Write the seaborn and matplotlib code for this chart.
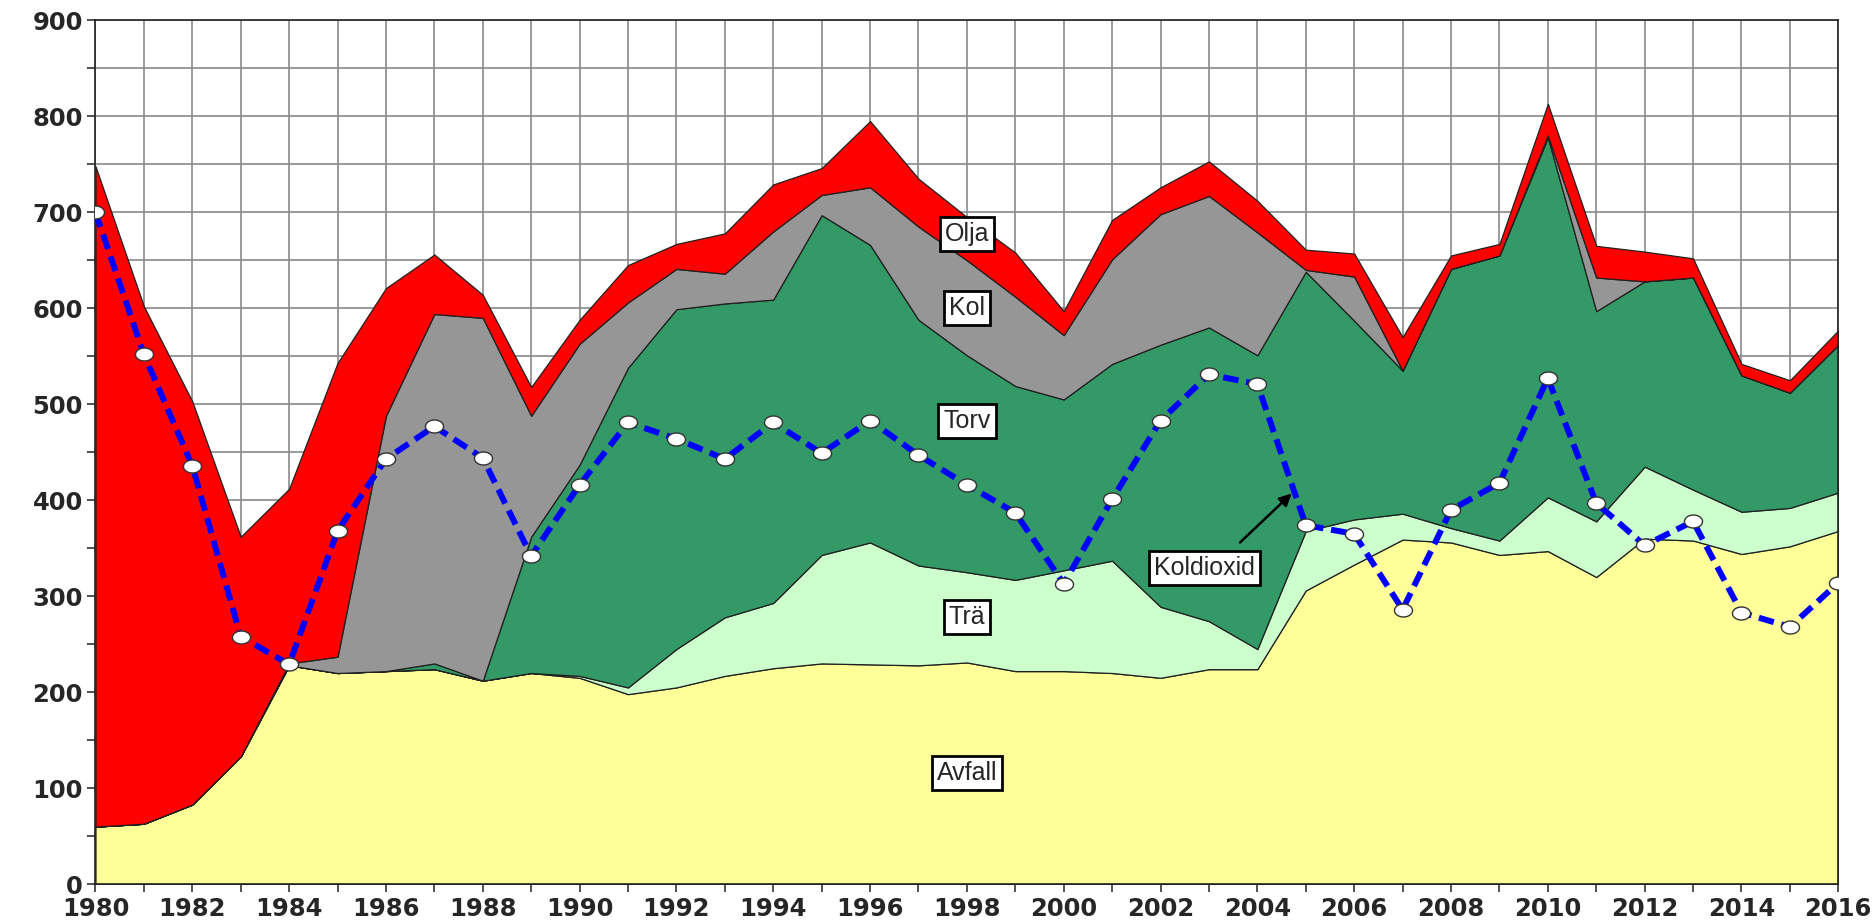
import numpy as np
import pandas as pd
import matplotlib
matplotlib.use("Agg")
import matplotlib.pyplot as plt
from matplotlib.ticker import MultipleLocator
import seaborn as sns

sns.set_style("ticks")
plt.rcParams['font.family'] = ['DejaVu Sans']

years = list(range(1980, 2017))

avfall = [60, 63, 83, 133, 228, 220, 222, 224, 212, 220, 215, 198, 205, 217, 225, 230, 229, 228, 231, 222,
          222, 220, 215, 224, 224, 306, 333, 359, 356, 343, 347, 320, 360, 358, 344, 352, 368]
tra = [0, 0, 0, 0, 0, 0, 0, 0, 0, 0, 2, 7, 40, 61, 68, 113, 127, 104, 94, 95,
       105, 117, 74, 50, 21, 62, 47, 27, 15, 15, 56, 58, 75, 53, 44, 40, 40]
torv = [0, 0, 0, 0, 0, 0, 0, 6, 0, 142, 220, 333, 354, 327, 316, 354, 310, 256, 226, 202,
        178, 205, 273, 306, 306, 270, 207, 149, 270, 297, 375, 219, 193, 221, 142, 120, 154]
kol = [0, 0, 0, 0, 2, 17, 266, 364, 378, 126, 126, 68, 42, 31, 71, 21, 60, 97, 99, 93,
       67, 109, 136, 137, 128, 2, 46, 0, 0, 0, 2, 35, 0, 0, 0, 0, 0]
olja = [688, 539, 420, 229, 182, 306, 133, 62, 24, 30, 25, 39, 26, 42, 49, 28, 69, 50, 45, 46,
        25, 41, 28, 36, 33, 21, 24, 35, 14, 12, 33, 33, 31, 20, 12, 13, 15]
koldioxid = [700, 552, 436, 258, 229, 368, 443, 477, 444, 342, 416, 481, 464, 443, 481, 449, 483, 447, 416, 387,
             313, 401, 483, 531, 521, 374, 365, 286, 390, 418, 527, 397, 353, 378, 283, 268, 314]

layer_names = ['Avfall', 'Trä', 'Torv', 'Kol', 'Olja']
layer_colors = ['#FFFF99', '#CCFFCC', '#339966', '#969696', '#FF0000']

df_co2 = pd.DataFrame({'year': years, 'Koldioxid': koldioxid})

fig = plt.figure(figsize=(18.72, 9.22), dpi=100)
ax = fig.add_axes([0.051, 0.041, 0.931, 0.937])

ax.stackplot(years, avfall, tra, torv, kol, olja, colors=layer_colors,
             edgecolor='#202020', linewidth=0.9, zorder=2)

sns.lineplot(data=df_co2, x='year', y='Koldioxid', ax=ax, color='#0000FF',
             linewidth=4.3, dashes=False, zorder=4)
ax.lines[-1].set_linestyle((0, (2.6, 1.3)))
# slightly flattened white markers like the original
ellipse = [(np.cos(t) * 1.0, np.sin(t) * 0.72) for t in np.linspace(0, 2 * np.pi, 40)]
ax.plot(years, koldioxid, linestyle='none', marker=ellipse, markersize=13,
        markerfacecolor='white', markeredgecolor='#333333', markeredgewidth=1, zorder=5)

ax.set_xlim(1980, 2016)
ax.set_ylim(0, 900)
ax.xaxis.set_major_locator(MultipleLocator(2))
ax.xaxis.set_minor_locator(MultipleLocator(1))
ax.yaxis.set_major_locator(MultipleLocator(100))
ax.yaxis.set_minor_locator(MultipleLocator(50))
ax.grid(which='both', color='#8a8a8a', linewidth=1.2, zorder=0)
ax.set_axisbelow(True)
ax.tick_params(which='both', direction='out', length=6, width=1.2, color='#333333')
ax.tick_params(axis='both', labelsize=17.5, pad=3)
for lbl in ax.get_xticklabels() + ax.get_yticklabels():
    lbl.set_fontweight('heavy')
ax.set_xlabel('')
ax.set_ylabel('')
for s in ax.spines.values():
    s.set_color('#222222')
    s.set_linewidth(1.2)

box = dict(boxstyle='square,pad=0.2', facecolor='white', edgecolor='black', linewidth=2)
label_pos = {'Olja': (1998, 677), 'Kol': (1998, 600), 'Torv': (1998, 483),
             'Trä': (1998, 278), 'Avfall': (1998, 116)}
for name, (x, y) in label_pos.items():
    ax.text(x, y, name, ha='center', va='center', fontsize=18, family='Liberation Sans',
            bbox=box, zorder=6)
ax.text(2002.9, 329, 'Koldioxid', ha='center', va='center', fontsize=18, family='Liberation Sans',
        bbox=box, zorder=6)
ax.annotate('', xy=(2004.75, 409), xytext=(2003.6, 354),
            arrowprops=dict(arrowstyle='-|>', color='black', lw=1.8, mutation_scale=18), zorder=6)

plt.savefig('out.png', dpi=100, facecolor='white')
